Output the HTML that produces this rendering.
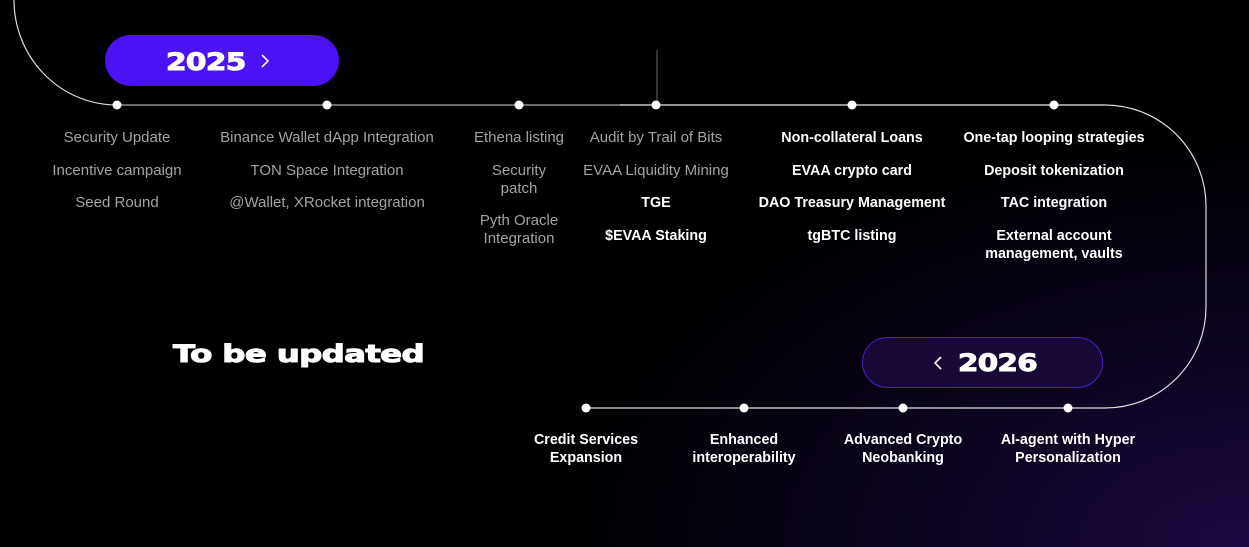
<!DOCTYPE html>
<html><head><style>
body{margin:0;width:1249px;height:547px;overflow:hidden;background:#000;font-family:"Liberation Sans",sans-serif;position:relative}
.bg{position:absolute;inset:0;background:radial-gradient(ellipse 700px 420px at 1249px 547px,#1c0840 0%,#0c0420 45%,rgba(0,0,0,0) 100%)}
.t{position:absolute;font-size:15px;text-align:center;transform:translateX(-50%);white-space:nowrap;line-height:18px}
.g{color:#a3a3a3}.w{color:#fff;font-weight:bold;font-size:14.3px}
.big{position:absolute;color:#fff;font-weight:900;font-family:"DejaVu Sans",sans-serif;letter-spacing:-0.5px;-webkit-text-stroke:1px #fff}
</style></head><body>
<div class="bg"></div>
<svg width="1249" height="547" style="position:absolute;left:0;top:0">
<path d="M14,0 A103,105 0 0 0 117,105" stroke="#ddd" fill="none" stroke-width="1.2"/>
<line x1="117" y1="105" x2="620" y2="105" stroke="#8a8a8a" stroke-width="1.5"/>
<line x1="620" y1="105" x2="1105" y2="105" stroke="#eee" stroke-width="1.2"/>
<line x1="657" y1="50" x2="657" y2="105" stroke="#666" stroke-width="1"/>
<path d="M1105,105 A101,101 0 0 1 1206,206 L1206,307 A101,101 0 0 1 1105,408 L586,408" stroke="#ddd" fill="none" stroke-width="1.2"/>
<g fill="#fff">
<circle cx="117" cy="105" r="4.5"/><circle cx="327" cy="105" r="4.5"/><circle cx="519" cy="105" r="4.5"/><circle cx="656" cy="105" r="4.5"/><circle cx="852" cy="105" r="4.5"/><circle cx="1054" cy="105" r="4.5"/>
<circle cx="586" cy="408" r="4.5"/><circle cx="744" cy="408" r="4.5"/><circle cx="903" cy="408" r="4.5"/><circle cx="1068" cy="408" r="4.5"/>
</g>
</svg>
<div style="position:absolute;left:105px;top:35px;width:234px;height:51px;border-radius:26px;background:#4a12f4"></div>
<div class="big" style="left:166px;top:48px;font-size:24px;transform:scaleX(1.23);transform-origin:left">2025</div>
<svg width="1249" height="547" style="position:absolute;left:0;top:0"><polyline points="262,55 268,61 262,67" stroke="#fff" stroke-width="1.6" fill="none"/></svg>
<div style="position:absolute;left:862px;top:337px;width:239px;height:49px;border-radius:26px;background:#170838;border:1.5px solid #4a1fd0"></div>
<svg width="1249" height="547" style="position:absolute;left:0;top:0"><polyline points="941,357 935,363 941,369" stroke="#fff" stroke-width="1.6" fill="none"/></svg>
<div class="big" style="left:958px;top:349px;font-size:24px;transform:scaleX(1.22);transform-origin:left">2026</div>
<div class="big" style="left:173px;top:340px;font-size:24px;transform:scaleX(1.35);transform-origin:left">To be updated</div>

<div class="t g" style="left:117px;top:129px">Security Update</div>
<div class="t g" style="left:117px;top:162px">Incentive campaign</div>
<div class="t g" style="left:117px;top:194px">Seed Round</div>
<div class="t g" style="left:327px;top:129px">Binance Wallet dApp Integration</div>
<div class="t g" style="left:327px;top:162px">TON Space Integration</div>
<div class="t g" style="left:327px;top:194px">@Wallet, XRocket integration</div>
<div class="t g" style="left:519px;top:129px">Ethena listing</div>
<div class="t g" style="left:519px;top:162px">Security<br>patch</div>
<div class="t g" style="left:519px;top:212px">Pyth Oracle<br>Integration</div>
<div class="t g" style="left:656px;top:129px">Audit by Trail of Bits</div>
<div class="t g" style="left:656px;top:162px">EVAA Liquidity Mining</div>
<div class="t w" style="left:656px;top:194px">TGE</div>
<div class="t w" style="left:656px;top:227px">$EVAA Staking</div>
<div class="t w" style="left:852px;top:129px">Non-collateral Loans</div>
<div class="t w" style="left:852px;top:162px">EVAA crypto card</div>
<div class="t w" style="left:852px;top:194px">DAO Treasury Management</div>
<div class="t w" style="left:852px;top:227px">tgBTC listing</div>
<div class="t w" style="left:1054px;top:129px">One-tap looping strategies</div>
<div class="t w" style="left:1054px;top:162px">Deposit tokenization</div>
<div class="t w" style="left:1054px;top:194px">TAC integration</div>
<div class="t w" style="left:1054px;top:227px">External account<br>management, vaults</div>
<div class="t w" style="left:586px;top:431px">Credit Services<br>Expansion</div>
<div class="t w" style="left:744px;top:431px">Enhanced<br>interoperability</div>
<div class="t w" style="left:903px;top:431px">Advanced Crypto<br>Neobanking</div>
<div class="t w" style="left:1068px;top:431px">AI-agent with Hyper<br>Personalization</div>
</body></html>
